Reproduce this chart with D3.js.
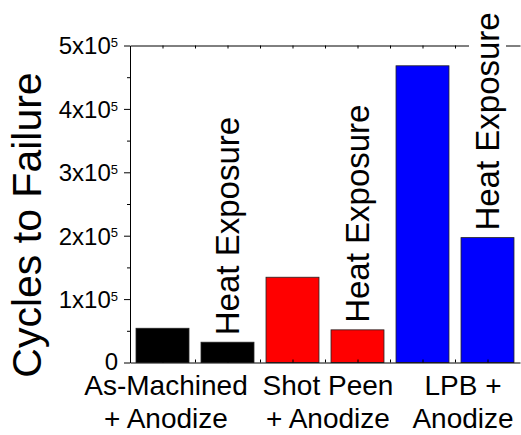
<!DOCTYPE html>
<html>
<head>
<meta charset="utf-8">
<script src="https://cdn.jsdelivr.net/npm/d3@7"></script>
<style>
  body { margin: 0; background: #fff; }
  svg { display: block; font-family: Arial, 'Liberation Sans', sans-serif; }
</style>
</head>
<body>
<div class="chart"></div>
<script>
// values
let conditions = ['As-Machined + Anodize', 'As-Machined + Anodize, Heat Exposure',
                  'Shot Peen + Anodize', 'Shot Peen + Anodize, Heat Exposure',
                  'LPB + Anodize', 'LPB + Anodize, Heat Exposure']
let cycles = [54000, 32000, 134500, 51500, 468000, 197000]
let barLabels = ['', 'Heat Exposure', '', 'Heat Exposure', '', 'Heat Exposure']
let groupLines = [['As-Machined', '+ Anodize'], ['Shot Peen', '+ Anodize'], ['LPB +', 'Anodize']]
let yTicks = [0, 100000, 200000, 300000, 400000, 500000]
let yMinor = [50000, 150000, 250000, 350000, 450000]

let barColors = ['#000000', '#000000', '#ff0000', '#ff0000', '#0000ff', '#0000ff']
let groupShift = [-29, 3, 8]

let w = 521, h = 435
let mLeft = 130, mRight = 520, mTop = 45.5, mBottom = 362.5

let svg = d3.select('.chart').append('svg').attr('width', w).attr('height', h)

let x = d3.scaleBand().domain(d3.range(conditions.length)).range([mLeft, mRight])
  .paddingInner(0.185).paddingOuter(0.0925)
let xHalf = d3.scaleLinear().domain([0, conditions.length * 2]).range([mLeft, mRight])
let y = d3.scaleLinear().domain([0, 500000]).range([mBottom, mTop])

// bars
svg.selectAll('.bar').data(cycles).enter().append('rect')
  .attr('class', 'bar')
  .attr('x', (d, i) => x(i))
  .attr('y', d => y(d))
  .attr('width', x.bandwidth())
  .attr('height', d => y(0) - y(d))
  .attr('fill', (d, i) => barColors[i])
  .attr('stroke', '#222')
  .attr('stroke-width', 0.8)

// top frame line with small inward ticks
let topAxis = d3.axisTop(xHalf).tickValues(d3.range(1, 12)).tickSize(-3).tickSizeOuter(0).tickFormat('')
svg.append('g').attr('transform', 'translate(0,' + mTop + ')').call(topAxis)
// bottom line
let botAxis = d3.axisBottom(xHalf).tickValues(d3.range(1, 12)).tickSize(-3).tickSizeOuter(0).tickFormat('')
svg.append('g').attr('transform', 'translate(0,' + mBottom + ')').call(botAxis)

// y axis
let yAxis = d3.axisLeft(y).tickValues(yTicks).tickSize(6).tickSizeOuter(0).tickFormat('')
let gy = svg.append('g').attr('transform', 'translate(' + mLeft + ',0)').call(yAxis)
svg.append('g').attr('transform', 'translate(' + mLeft + ',0)')
  .call(d3.axisLeft(y).tickValues(yMinor).tickSize(3).tickSizeOuter(0).tickFormat(''))
  .select('.domain').remove()
svg.selectAll('.domain, .tick line').attr('stroke', '#000')

gy.selectAll('.tick').each(function (d) {
  let t = d3.select(this).append('text')
    .attr('x', -12).attr('dy', d === 0 ? '0.28em' : '0.35em')
    .attr('text-anchor', 'end').attr('fill', '#000')
    .style('font-size', '24px')
  if (d === 0) {
    t.text('0')
  } else {
    t.append('tspan').text((d / 100000) + 'x10')
    t.append('tspan').text('5').attr('dy', '-0.55em').style('font-size', '13px')
  }
})

// rotated labels above the heat exposure bars
cycles.forEach((d, i) => {
  if (!barLabels[i]) return
  let cx = x(i) + x.bandwidth() / 2
  let g = svg.append('g').attr('transform', 'translate(' + (cx + 11.5) + ',' + (y(d) - 7) + ') rotate(-90)')
  let bg = g.append('rect').attr('fill', '#fff')
  let t = g.append('text').text(barLabels[i]).attr('fill', '#000').style('font-size', '33px')
  let b = t.node().getBBox()
  bg.attr('x', b.x - 2).attr('y', b.y).attr('width', b.width + 4).attr('height', b.height)
})

// group labels
groupLines.forEach((lines, k) => {
  let cx = (x(2 * k) + x(2 * k + 1) + x.bandwidth()) / 2 + groupShift[k]
  let t = svg.append('text').attr('text-anchor', 'middle').attr('fill', '#000').style('font-size', '28px')
  lines.forEach((s, j) => {
    t.append('tspan').attr('x', cx).attr('y', 395 + j * 33).text(s)
  })
})

// y title
svg.append('text').text('Cycles to Failure')
  .attr('transform', 'translate(41,225) rotate(-90)')
  .attr('text-anchor', 'middle').attr('fill', '#000')
  .style('font-size', '41px')
</script>
</body>
</html>
